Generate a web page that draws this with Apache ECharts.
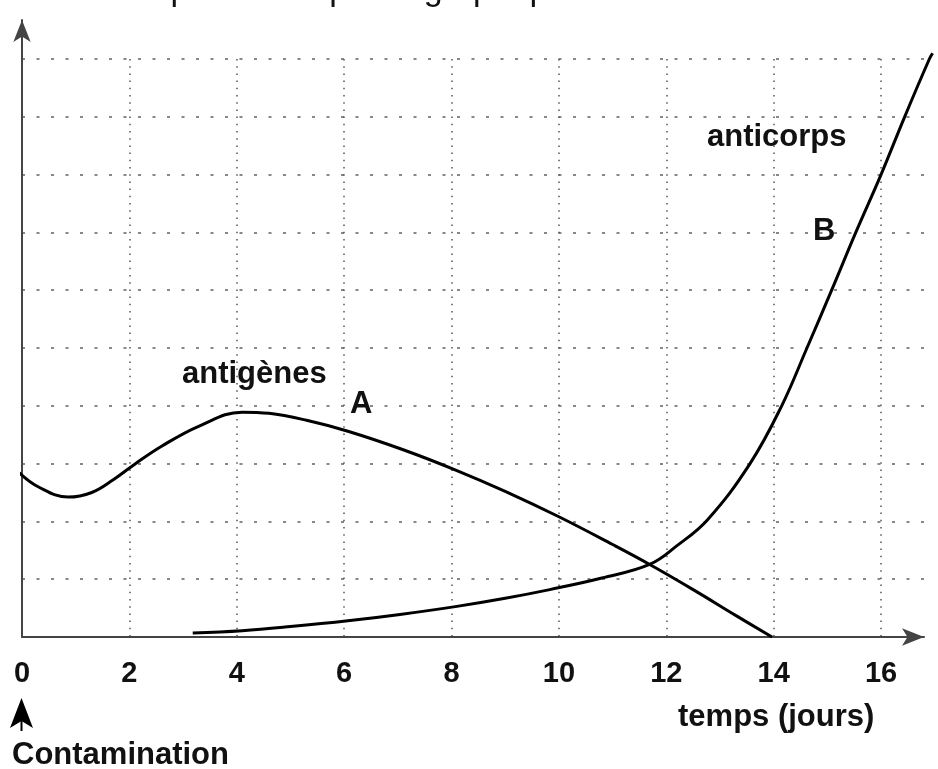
<!DOCTYPE html>
<html><head><meta charset="utf-8">
<script src="https://cdn.jsdelivr.net/npm/echarts@6/dist/echarts.min.js"></script>
<style>html,body{margin:0;padding:0;background:#fff}#c{width:938px;height:769px}</style>
</head><body><div id="c"></div>
<script>
// Antigènes (curve A): [jour, niveau]
const antigenes = [[-0.05,2.84],[0.3,2.6],[0.86,2.42],[1.3,2.5],[1.7,2.72],[2.1,2.99],[2.6,3.3],[3.3,3.65],[4.1,3.89],[4.6,3.87],[5.3,3.75],[6.07,3.56],[7.1,3.24],[8.1,2.88],[9.0,2.52],[10.0,2.08],[11.0,1.6],[11.7,1.25],[12.5,0.82],[13.3,0.37],[13.97,0]];
// Anticorps (curve B): [jour, niveau]
const anticorps = [[3.18,0.07],[4.1,0.11],[5.0,0.18],[6.07,0.28],[7.04,0.39],[8.1,0.53],[9.0,0.67],[9.83,0.82],[10.8,1.02],[11.7,1.26],[12.2,1.58],[12.77,2.03],[13.56,3.0],[14.15,4.0],[14.62,5.0],[15.08,6.0],[15.53,7.0],[16.0,8.0],[16.44,9.0],[16.9,10.0],[16.96,10.1]];
const xTickLabels = ['0','2','4','6','8','10','12','14','16'];
const texts = {
  top: 'Les résultats sont représentés par le graphique ci-dessous',
  a: 'antigènes', aLetter: 'A', b: 'anticorps', bLetter: 'B',
  xName: 'temps (jours)', contamination: 'Contamination'
};

const X0 = 22, Y0 = 637, PX = 53.69, PY = 57.8;
const axMaxX = (924 - X0) / PX, axMaxY = (Y0 - 20) / PY;
const FONT = 'Liberation Sans, Arial, Helvetica, sans-serif';

const chart = echarts.init(document.getElementById('c'), null, {renderer: 'canvas'});
const lbl = (t, x, y, size, align) => ({
  type: 'text', z: 100,
  style: {text: t, x: x, y: y, fill: '#111', font: 'bold ' + size + 'px ' + FONT,
          align: align || 'left', verticalAlign: 'middle'}
});

chart.setOption({
  animation: false,
  backgroundColor: '#fff',
  grid: [
    {left: X0, top: Y0 - 10 * PY, width: 17 * PX, height: 10 * PY},
    {left: X0, top: Y0 - axMaxY * PY, width: axMaxX * PX, height: axMaxY * PY}
  ],
  xAxis: [
    {type: 'value', gridIndex: 0, min: 0, max: 17, interval: 2,
     axisLine: {show: false}, axisTick: {show: false},
     axisLabel: {show: true, margin: 22, showMaxLabel: false, color: '#111',
       fontSize: 29, fontWeight: 'bold', fontFamily: FONT,
       formatter: v => xTickLabels[Math.round(v / 2)] || ''},
     splitLine: {show: true, showMinLine: false, showMaxLine: false,
       lineStyle: {color: '#555', width: 1.5, type: [1.5, 5.7]}}},
    {type: 'value', gridIndex: 1, min: 0, max: axMaxX,
     axisLine: {show: true, symbol: ['none', 'arrow'], symbolSize: [13, 22],
       lineStyle: {color: '#444', width: 2}},
     axisTick: {show: false}, axisLabel: {show: false}, splitLine: {show: false}}
  ],
  yAxis: [
    {type: 'value', gridIndex: 0, min: 0, max: 10, interval: 1,
     axisLine: {show: false}, axisTick: {show: false}, axisLabel: {show: false},
     splitLine: {show: true, showMinLine: false, showMaxLine: true,
       lineStyle: {color: '#888', width: 2, type: [3, 11.5]}}},
    {type: 'value', gridIndex: 1, min: 0, max: axMaxY,
     axisLine: {show: true, symbol: ['none', 'arrow'], symbolSize: [13, 22],
       lineStyle: {color: '#444', width: 2}},
     axisTick: {show: false}, axisLabel: {show: false}, splitLine: {show: false}}
  ],
  series: [
    {name: texts.a, type: 'line', xAxisIndex: 0, yAxisIndex: 0, data: antigenes,
     smooth: 0.4, symbol: 'none', clip: false,
     lineStyle: {color: '#000', width: 3}, z: 10},
    {name: texts.b, type: 'line', xAxisIndex: 0, yAxisIndex: 0, data: anticorps,
     smooth: 0.4, symbol: 'none', clip: false,
     lineStyle: {color: '#000', width: 3}, z: 10}
  ],
  graphic: [
    {type: 'text', z: 100, style: {text: texts.top, x: 747, y: -9.5, fill: '#111',
      font: '34px ' + FONT, align: 'right', verticalAlign: 'middle'}},
    lbl(texts.a, 182, 374, 31),
    lbl(texts.aLetter, 350, 404, 31),
    lbl(texts.b, 707, 137, 31),
    lbl(texts.bLetter, 813, 231, 31),
    lbl(texts.xName, 678, 717, 31),
    lbl(texts.contamination, 12, 755, 31),
    {type: 'polygon', z: 100, shape: {points: [[21.5, 698], [33, 728], [21.5, 721], [10, 728]]},
     style: {fill: '#000'}},
    {type: 'line', z: 100, shape: {x1: 21.5, y1: 720, x2: 21.5, y2: 731},
     style: {stroke: '#000', lineWidth: 2}}
  ]
});
</script></body></html>
